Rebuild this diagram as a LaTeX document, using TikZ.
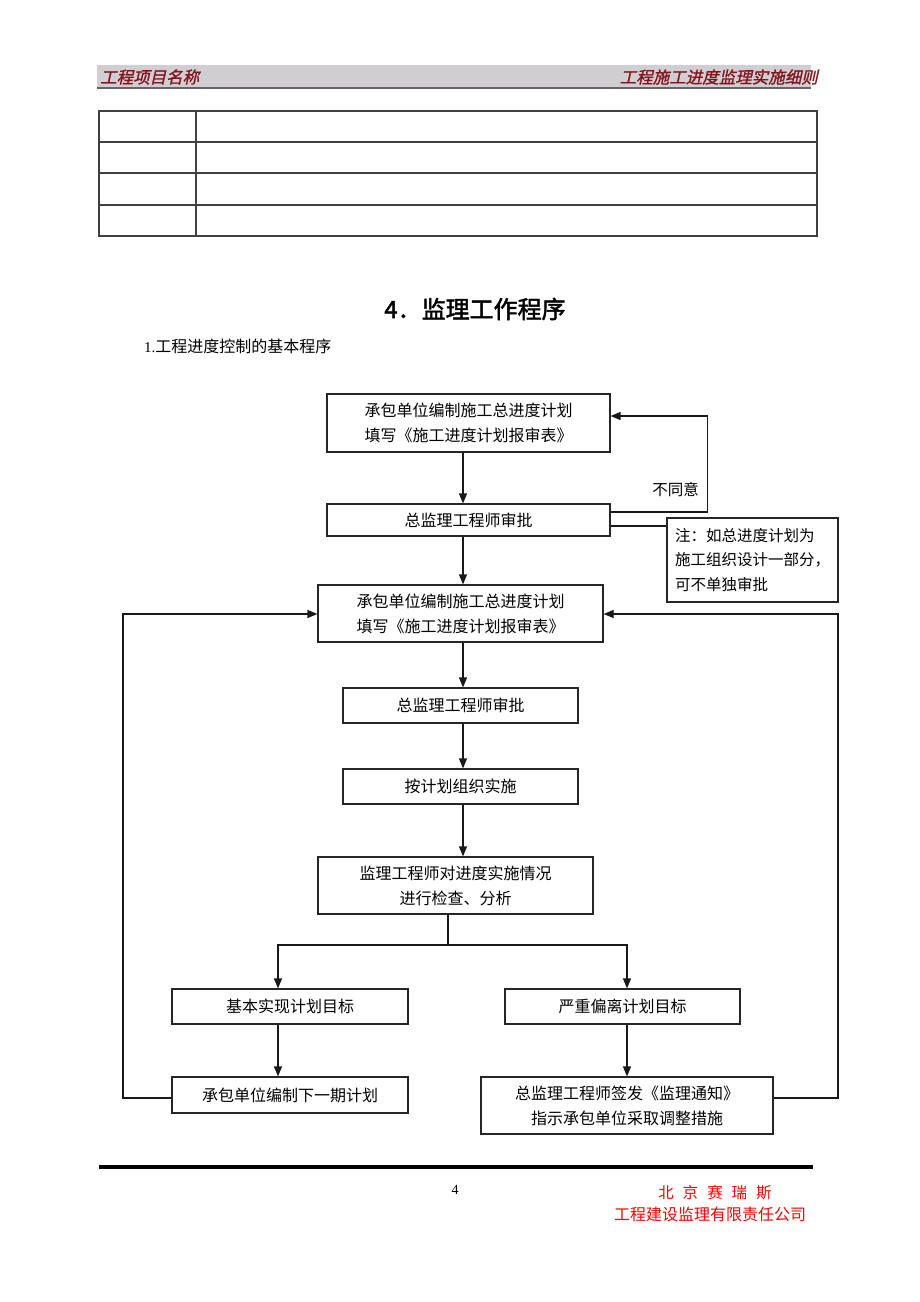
\documentclass[tikz,border=0pt]{standalone}
\usepackage{fontspec}
\setmainfont{Liberation Serif}
\newfontfamily\cjk{Noto Sans CJK SC}
\newfontfamily\cjkb[FakeBold=2]{Noto Sans CJK SC}
\newfontfamily\cjki[FakeSlant=0.22,FakeBold=1.2]{Noto Sans CJK SC}
\usetikzlibrary{arrows.meta,calc}
\definecolor{hdrred}{RGB}{130,20,30}
\definecolor{bandgray}{RGB}{208,206,208}
\begin{document}
\begin{tikzpicture}[x=1pt,y=-1pt,
  box/.style={draw=black!85, line width=1.2pt, inner sep=0pt, align=center,
    font=\cjk\fontsize{16}{25}\selectfont},
  conn/.style={line width=1.2pt, draw=black!90},
  arr/.style={conn, -{Triangle[length=10pt,width=8pt]}}]
\useasboundingbox (0,0) rectangle (920,1302);
% header band
\fill[bandgray] (97,65) rectangle (811,88);
\draw[line width=2pt, black!60] (97,88) -- (811,88);
\node[anchor=west, text=hdrred, font=\cjki\fontsize{16.5}{16.5}\selectfont, inner sep=0pt] (hl) at (100,77) {工程项目名称};
\node[anchor=east, text=hdrred, font=\cjki\fontsize{16.5}{16.5}\selectfont, inner sep=0pt] (hr) at (818,77) {工程施工进度监理实施细则};
% table
\draw[line width=1.2pt, black!75] (99,111) rectangle (817,236);
\foreach \yy in {142,173,205} \draw[line width=1.2pt, black!75] (99,\yy) -- (817,\yy);
\draw[line width=1.2pt, black!75] (196,111) -- (196,236);
% titles
\node[font=\cjkb\fontsize{24}{24}\selectfont] (title) at (475,309) {4．监理工作程序};
\node[anchor=west, inner sep=0pt, font=\fontsize{15}{15}\selectfont] (sub) at (144,346) {1.{\cjk\fontsize{16}{16}\selectfont 工程进度控制的基本程序}};
% boxes
\node[box, minimum width=283pt, minimum height=58pt] (b1) at (468.5,423) {承包单位编制施工总进度计划\\填写《施工进度计划报审表》};
\node[box, minimum width=283pt, minimum height=32pt] (b2) at (468.5,520) {总监理工程师审批};
\node[box, minimum width=171pt, minimum height=84pt, align=left, font=\cjk\fontsize{15.5}{24.5}\selectfont] (note) at (752.5,560) {注：如总进度计划为\\施工组织设计一部分，\\可不单独审批};
\node[box, minimum width=285pt, minimum height=57pt] (b3) at (460.5,613.5) {承包单位编制施工总进度计划\\填写《施工进度计划报审表》};
\node[box, minimum width=235pt, minimum height=35pt] (b4) at (460.5,705.5) {总监理工程师审批};
\node[box, minimum width=235pt, minimum height=35pt] (b5) at (460.5,786.5) {按计划组织实施};
\node[box, minimum width=275pt, minimum height=57pt] (b6) at (455.5,885.5) {监理工程师对进度实施情况\\进行检查、分析};
\node[box, minimum width=236pt, minimum height=35pt] (b7) at (290,1006.5) {基本实现计划目标};
\node[box, minimum width=235pt, minimum height=35pt] (b8) at (622.5,1006.5) {严重偏离计划目标};
\node[box, minimum width=236pt, minimum height=36pt] (b9) at (290,1095) {承包单位编制下一期计划};
\node[box, minimum width=292pt, minimum height=57pt] (b10) at (627,1105.5) {总监理工程师签发《监理通知》\\指示承包单位采取调整措施};
% connectors
\coordinate (cx) at (463,0);
\draw[arr] (b1.south -| cx) -- (b2.north -| cx);
\draw[arr] (b2.south -| cx) -- (b3.north -| cx);
\draw[arr] (b3.south -| cx) -- (b4.north -| cx);
\draw[arr] (b4.south -| cx) -- (b5.north -| cx);
\draw[arr] (b5.south -| cx) -- (b6.north -| cx);
\draw[arr] ([yshift=8pt]b2.east) -- ++(97,0) |- ([yshift=7pt]b1.east);
\node[anchor=east, inner sep=0pt, font=\cjk\fontsize{15.5}{15.5}\selectfont] (ng) at (699,490) {不同意};
\draw[conn] ([yshift=-6pt]b2.east) -- ([yshift=-6pt]b2.east -| note.west);
\coordinate (sp) at (448,945);
\coordinate (bl) at (278,945);
\coordinate (br) at (627,945);
\draw[conn] (b6.south -| sp) -- (sp);
\draw[arr] (sp) -- (bl) -- (bl |- b7.north);
\draw[arr] (sp) -- (br) -- (br |- b8.north);
\draw[arr] (b7.south -| bl) -- (b9.north -| bl);
\draw[arr] (b8.south -| br) -- (b10.north -| br);
\coordinate (ll) at (123,614);
\coordinate (rl) at (838,614);
\draw[arr] ([yshift=-3pt]b9.west) -| (ll) -- (b3.west |- ll);
\draw[arr] ([yshift=7.5pt]b10.east) -| (rl) -- (b3.east |- rl);
% footer
\draw[line width=4pt] (99,1167) -- (813,1167);
\node[font=\fontsize{14}{14}\selectfont] (pg) at (455,1190) {4};
\node[text=red, font=\cjk\fontsize{15.5}{15.5}\selectfont] (co1) at (715,1193) {北\hspace{9pt}京\hspace{9pt}赛\hspace{9pt}瑞\hspace{9pt}斯};
\node[text=red, font=\cjk\fontsize{16}{16}\selectfont] (co2) at (710,1214) {工程建设监理有限责任公司};
\end{tikzpicture}
\end{document}
